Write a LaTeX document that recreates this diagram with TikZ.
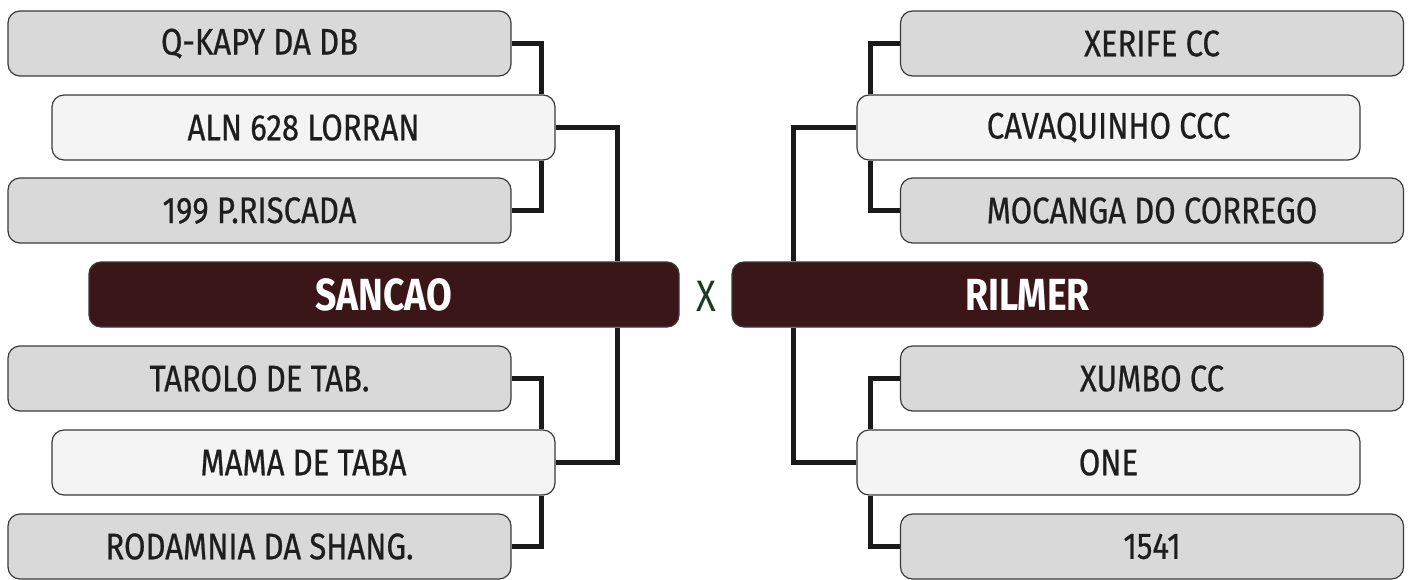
\documentclass[tikz,border=0pt]{standalone}
\usepackage{fontspec}
\setmainfont{Fira Sans}[FakeStretch=0.83]
\newfontfamily\teamfont{Fira Sans}[FakeStretch=0.84, FakeBold=0.6]
\usetikzlibrary{backgrounds}
\definecolor{boxgray}{HTML}{D9D9D9}
\definecolor{boxlight}{HTML}{F4F4F4}
\definecolor{boxdark}{HTML}{3B1619}
\definecolor{edgegray}{HTML}{3A3A3A}
\definecolor{txt}{HTML}{1E1E1E}
\definecolor{xgreen}{HTML}{1C3A25}
\definecolor{wire}{HTML}{1A1A1A}
\tikzset{
  x=1pt, y=-1pt,
  teambox/.style={draw=edgegray, line width=1.2pt, rounded corners=12pt, fill=boxgray,
    minimum width=503pt, minimum height=65pt, inner sep=0pt, text=txt,
    font=\teamfont\fontsize{37}{42}\selectfont},
  winbox/.style={teambox, fill=boxlight},
  finalbox/.style={draw=edgegray, line width=1.2pt, rounded corners=12pt, fill=boxdark,
    minimum width=590pt, minimum height=65pt, inner sep=0pt, text=white,
    font=\fontsize{45}{50}\selectfont\bfseries},
  wireline/.style={draw=wire, line width=5pt}
}
\begin{document}
\begin{tikzpicture}
\useasboundingbox (0,0) rectangle (1412,579);
% left side
\node[teambox] (qkapy) at (259.5,43.5) {Q-KAPY DA DB};
\node[winbox] (aln) at (303.5,127.5) {ALN 628 LORRAN};
\node[teambox] (pris) at (259.5,210.5) {199 P.RISCADA};
\node[finalbox] (sancao) at (384,294.5) {SANCAO};
\node[teambox] (tarolo) at (259.5,378.5) {TAROLO DE TAB.};
\node[winbox] (mama) at (303.5,462.5) {MAMA DE TABA};
\node[teambox] (roda) at (259.5,546.5) {RODAMNIA DA SHANG.};
% right side
\node[teambox] (xerife) at (1152,43.5) {XERIFE CC};
\node[winbox] (cava) at (1108.5,127.5) {CAVAQUINHO CCC};
\node[teambox] (moc) at (1152,210.5) {MOCANGA DO CORREGO};
\node[finalbox, minimum width=591pt] (rilmer) at (1027.5,294.5) {RILMER};
\node[teambox] (xumbo) at (1152,378.5) {XUMBO CC};
\node[winbox] (one) at (1108.5,462.5) {ONE};
\node[teambox] (n1541) at (1152,546.5) {1541};
% versus
\node[text=xgreen, font=\fontsize{44}{48}\selectfont, inner sep=0pt] (vs) at (706,296) {X};
% bracket columns
\coordinate (lb) at (541,0);
\coordinate (lc) at (617,0);
\coordinate (rb) at (870,0);
\coordinate (rc) at (793,0);
\begin{scope}[on background layer]
\fill[white] (0,0) rectangle (1412,579);
\draw[wireline] (qkapy.east) -| (lb |- aln.north);
\draw[wireline] (pris.east) -| (lb |- aln.south);
\draw[wireline] (aln.east) -| (lc |- sancao.north);
\draw[wireline] (tarolo.east) -| (lb |- mama.north);
\draw[wireline] (roda.east) -| (lb |- mama.south);
\draw[wireline] (mama.east) -| (lc |- sancao.south);
\draw[wireline] (xerife.west) -| (rb |- cava.north);
\draw[wireline] (moc.west) -| (rb |- cava.south);
\draw[wireline] (cava.west) -| (rc |- rilmer.north);
\draw[wireline] (xumbo.west) -| (rb |- one.north);
\draw[wireline] (n1541.west) -| (rb |- one.south);
\draw[wireline] (one.west) -| (rc |- rilmer.south);
\end{scope}
\end{tikzpicture}
\end{document}
